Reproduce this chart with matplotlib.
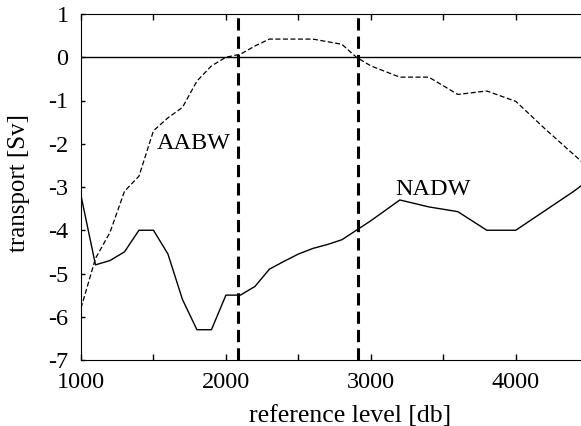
import numpy as np
import matplotlib
matplotlib.use('Agg')
from matplotlib import pyplot as plt

# reference level [db]
levels = [1000, 1100, 1200, 1300, 1400, 1500, 1600, 1700, 1800, 1900, 2000,
          2100, 2200, 2300, 2400, 2500, 2600, 2700, 2800, 2900, 3000,
          3200, 3400, 3600, 3800, 4000, 4200, 4400, 4500]

# transport [Sv]
nadw = [-3.2, -4.8, -4.7, -4.5, -4.0, -4.0, -4.55, -5.6, -6.3, -6.3, -5.5,
        -5.5, -5.3, -4.9, -4.72, -4.55, -4.42, -4.33, -4.22, -4.0, -3.78,
        -3.3, -3.46, -3.57, -4.0, -4.0, -3.55, -3.1, -2.85]
aabw = [-5.8, -4.65, -4.05, -3.1, -2.75, -1.7, -1.4, -1.16, -0.55, -0.2, 0.0,
        0.07, 0.26, 0.42, 0.42, 0.42, 0.42, 0.36, 0.3, 0.0, -0.2,
        -0.46, -0.46, -0.86, -0.78, -1.02, -1.65, -2.25, -2.55]

layer_bounds = [2085, 2910]

plt.rcParams['font.family'] = ['Liberation Serif', 'DejaVu Serif']
plt.rcParams['font.size'] = 17.5
plt.rcParams['axes.unicode_minus'] = False

fig = plt.figure(figsize=(5.81, 4.26), dpi=100)
ax = fig.add_axes([81/581, 1 - 360/426, 1 - 81/581, 346/426])

ax.plot(levels, nadw, color='black', lw=1.0)
ax.plot(levels, aabw, color='black', lw=0.9, dashes=(4, 2))
ax.axhline(0, color='black', lw=1.0)
for b in layer_bounds:
    ax.axvline(b, color='black', lw=2.2, dashes=(4, 2))

ax.text(1524, -2.13, 'AABW', va='baseline', ha='left')
ax.text(3166, -3.18, 'NADW', va='baseline', ha='left')

ax.set_xlim(1000, 4450)
ax.set_ylim(-7, 1)
ax.set_xticks([1000, 2000, 3000, 4000])
ax.set_xticks(np.arange(1500, 4500, 1000), minor=True)
ax.set_yticks(np.arange(-7, 2, 1))
ax.tick_params(direction='in', top=True, right=False, length=4, width=1)
ax.tick_params(which='minor', direction='in', top=True, length=4, width=1)
ax.tick_params(axis='x', pad=9)
ax.tick_params(axis='y', pad=9, length=3)
ax.spines['right'].set_visible(False)

ax.set_xlabel('reference level [db]', fontsize=18.5, va='baseline')
ax.xaxis.set_label_coords(0.538, -62/346)
ax.set_ylabel('transport [Sv]', fontsize=18, va='center')
ax.yaxis.set_label_coords(-0.124, 0.513)

plt.savefig('out.png', dpi=100)
